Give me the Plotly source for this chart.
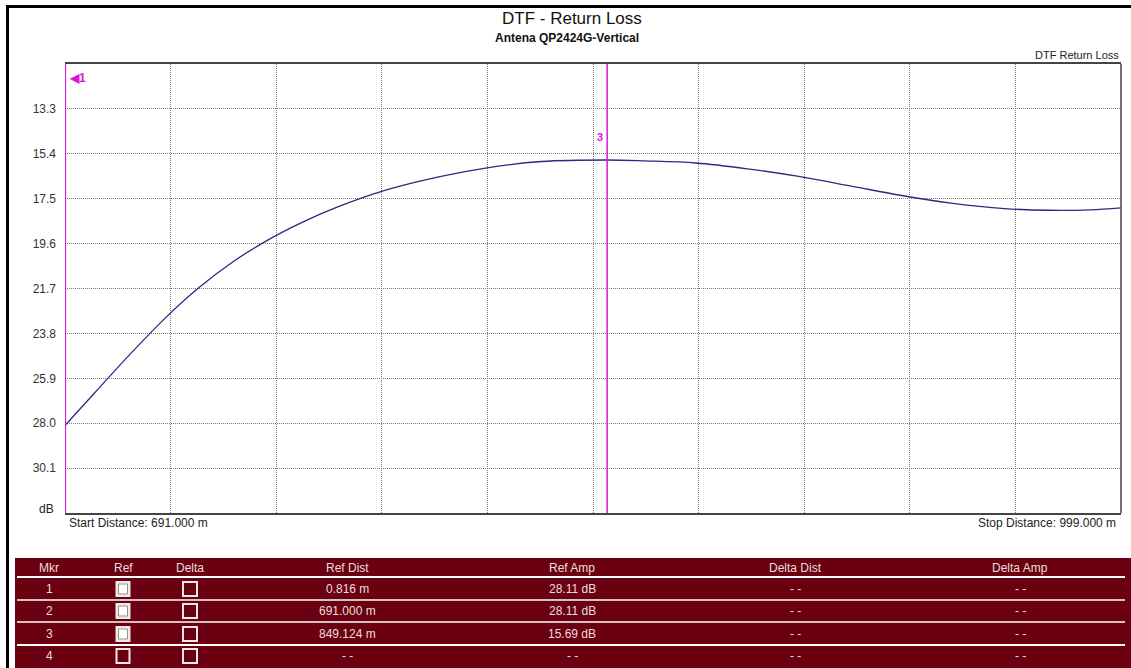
import plotly.graph_objects as go

# ---------------- data ----------------
dist_m = [691.0, 700.0, 710.0, 720.0, 730.0, 740.0, 750.0, 760.0, 770.0, 785.0,
          800.0, 815.0, 830.0, 849.1, 860.0, 875.0, 890.0, 905.0, 920.0, 935.0,
          950.0, 965.0, 978.0, 990.0, 999.0]
return_loss_db = [28.11, 26.52, 24.77, 23.12, 21.67, 20.45, 19.45, 18.62, 17.92, 17.08,
                  16.48, 16.03, 15.76, 15.69, 15.73, 15.83, 16.10, 16.46, 16.90, 17.35,
                  17.72, 17.96, 18.04, 18.02, 17.93]

y_ticks = [13.3, 15.4, 17.5, 19.6, 21.7, 23.8, 25.9, 28.0, 30.1]
y_range = [32.2, 11.2]
x_range = [691.0, 999.0]

marker_ids = ["1", "2", "3", "4"]
marker_ref_on = [True, True, True, False]
marker_dist = [0.816, 691.000, 849.124, None]
marker_amp = [28.11, 28.11, 15.69, None]
ref_dist_txt = ["0.816 m", "691.000 m", "849.124 m", "- -"]
ref_amp_txt = ["28.11 dB", "28.11 dB", "15.69 dB", "- -"]
delta_dist_txt = ["- -", "- -", "- -", "- -"]
delta_amp_txt = ["- -", "- -", "- -", "- -"]
table_headers = ["Mkr", "Ref", "Delta", "Ref Dist", "Ref Amp", "Delta Dist", "Delta Amp"]

# ---------------- geometry ----------------
W, H = 1131, 668
L, R, T, B = 65, 10, 64, 155
PW = W - L - R
PH = H - T - B
FONT = "Liberation Sans, Arial, sans-serif"
MAG = "#d815d8"
TABLE_BG = "#6a0010"


def px(x):
    return (x - L) / PW


def py(y):
    return (H - B - y) / PH


fig = go.Figure()
fig.add_trace(go.Scatter(x=dist_m, y=return_loss_db, mode="lines",
                         line=dict(color="#2b2b80", width=1.3, shape="spline", smoothing=1.0),
                         hoverinfo="skip", showlegend=False))

shapes = []
annotations = []

# outer border
shapes.append(dict(type="rect", xref="paper", yref="paper",
                   x0=px(7.5), x1=px(1140), y0=py(6.5), y1=py(680),
                   line=dict(color="black", width=3), layer="above"))

# right frame edge of plot
shapes.append(dict(type="line", xref="paper", yref="paper", x0=1, x1=1, y0=0, y1=1,
                   line=dict(color="#444", width=1.5), layer="above"))

# marker lines (2 at start distance, 3 at peak)
for mid, d in zip(marker_ids, marker_dist):
    if d is not None and x_range[0] <= d <= x_range[1]:
        shapes.append(dict(type="line", xref="x", yref="paper", x0=d, x1=d, y0=0, y1=1,
                           line=dict(color=MAG, width=2.2 if d == x_range[0] else 1.5), layer="above"))
        if d > x_range[0]:
            annotations.append(dict(x=d, y=15.0, xref="x", yref="y", text="<b>" + mid + "</b>",
                                    showarrow=False, xanchor="right", xshift=-2, yanchor="bottom",
                                    font=dict(family=FONT, size=11, color=MAG)))

# off-screen marker 1 indicator
annotations.append(dict(x=px(67), y=py(78), xref="paper", yref="paper", text="<b>◀1</b>",
                        showarrow=False, xanchor="left", yanchor="middle",
                        font=dict(family=FONT, size=12, color=MAG)))

# titles
annotations.append(dict(x=px(572), y=py(18), xref="paper", yref="paper", text="DTF - Return Loss",
                        showarrow=False, xanchor="center", yanchor="middle",
                        font=dict(family=FONT, size=17, color="#111")))
annotations.append(dict(x=px(567), y=py(38), xref="paper", yref="paper", text="<b>Antena QP2424G-Vertical</b>",
                        showarrow=False, xanchor="center", yanchor="middle",
                        font=dict(family=FONT, size=12, color="#111")))
annotations.append(dict(x=px(1121), y=py(55), xref="paper", yref="paper", text="DTF Return Loss",
                        showarrow=False, xanchor="right", yanchor="middle",
                        font=dict(family=FONT, size=11, color="#222")))
annotations.append(dict(x=px(56), y=py(509), xref="paper", yref="paper", text="dB",
                        showarrow=False, xanchor="right", yanchor="middle",
                        font=dict(family=FONT, size=12, color="#222")))
annotations.append(dict(x=px(67), y=py(523), xref="paper", yref="paper",
                        text=f"Start Distance: {x_range[0]:.3f} m",
                        showarrow=False, xanchor="left", yanchor="middle",
                        font=dict(family=FONT, size=12, color="#222")))
annotations.append(dict(x=px(1118), y=py(523), xref="paper", yref="paper",
                        text=f"Stop Distance: {x_range[1]:.3f} m",
                        showarrow=False, xanchor="right", yanchor="middle",
                        font=dict(family=FONT, size=12, color="#222")))

# ---------------- marker table ----------------
tb_left, tb_right, tb_top, tb_bot = 15, 1140, 558, 680
shapes.append(dict(type="rect", xref="paper", yref="paper",
                   x0=px(tb_left), x1=px(tb_right), y0=py(tb_top), y1=py(tb_bot),
                   fillcolor=TABLE_BG, line=dict(width=0), layer="above"))
col_x = [49, 123, 190, 347, 572, 795, 1020]
header_y = 568
row_y = [589, 611, 634, 656]
sep_y = [577, 600, 622, 645]
sep_col = ["#ffffff", "#d6c2c2", "#d6c2c2", "#ffffff"]
for sy, sc in zip(sep_y, sep_col):
    shapes.append(dict(type="line", xref="paper", yref="paper", x0=px(17), x1=px(1125),
                       y0=py(sy), y1=py(sy), line=dict(color=sc, width=2), layer="above"))
txt_col = "#eadede"
for cx, h in zip(col_x, table_headers):
    annotations.append(dict(x=px(cx), y=py(header_y), xref="paper", yref="paper", text=h,
                            showarrow=False, xanchor="center", yanchor="middle",
                            font=dict(family=FONT, size=12, color=txt_col)))
for i, ry in enumerate(row_y):
    vals = [marker_ids[i], None, None, ref_dist_txt[i], ref_amp_txt[i], delta_dist_txt[i], delta_amp_txt[i]]
    for cx, v in zip(col_x, vals):
        if v is None:
            continue
        annotations.append(dict(x=px(cx), y=py(ry), xref="paper", yref="paper", text=v,
                                showarrow=False, xanchor="center", yanchor="middle",
                                font=dict(family=FONT, size=12, color=txt_col)))
    # Ref checkbox
    on = marker_ref_on[i]
    shapes.append(dict(type="rect", xref="paper", yref="paper",
                       x0=px(col_x[1] - 6.5), x1=px(col_x[1] + 6.5), y0=py(ry - 7), y1=py(ry + 7),
                       fillcolor="#f4f0f0" if on else TABLE_BG,
                       line=dict(color="#f0e8e8", width=2), layer="above"))
    if on:
        shapes.append(dict(type="rect", xref="paper", yref="paper",
                           x0=px(col_x[1] - 4.5), x1=px(col_x[1] + 4.5), y0=py(ry - 5), y1=py(ry + 5),
                           fillcolor="#ffffff", line=dict(color="#9a8a8a", width=1), layer="above"))
    # Delta checkbox
    shapes.append(dict(type="rect", xref="paper", yref="paper",
                       x0=px(col_x[2] - 7), x1=px(col_x[2] + 7), y0=py(ry - 7), y1=py(ry + 7),
                       fillcolor=TABLE_BG, line=dict(color="#f0e8e8", width=2), layer="above"))

fig.update_layout(
    width=W, height=H,
    margin=dict(l=L, r=R, t=T, b=B, pad=0),
    paper_bgcolor="white", plot_bgcolor="white",
    showlegend=False,
    font=dict(family=FONT, size=12, color="#333"),
    shapes=shapes, annotations=annotations,
    xaxis=dict(range=x_range, tick0=x_range[0], dtick=(x_range[1] - x_range[0]) / 10,
               showticklabels=False, ticks="", showgrid=True, gridcolor="#7a7a7a", griddash="1px,1px",
               gridwidth=1, zeroline=False, showline=True, linecolor="#444", linewidth=1.5, mirror=True),
    yaxis=dict(range=y_range, tickvals=y_ticks, ticktext=[f"{v:.1f}" for v in y_ticks],
               ticks="", ticklabelstandoff=8, showgrid=True, gridcolor="#7a7a7a", griddash="1px,1px",
               gridwidth=1, zeroline=False, showline=False,
               tickfont=dict(family=FONT, size=12, color="#333")),
)

fig.write_html("out.html", config={"displayModeBar": False},
               post_script="document.body.style.margin='0px';document.body.style.overflow='hidden';")
